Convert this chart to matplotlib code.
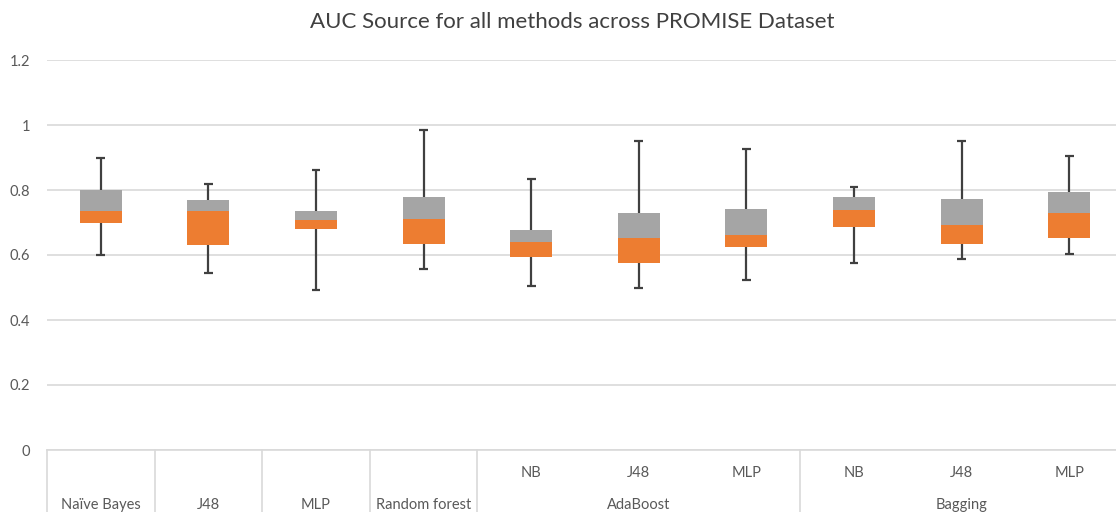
import matplotlib
matplotlib.use("Agg")
import matplotlib.pyplot as plt
import matplotlib.transforms as mtransforms
import numpy as np

# sub-category labels and their outer group ("" = no group)
labels = ["Naïve Bayes", "J48", "MLP", "Random forest", "NB", "J48", "MLP", "NB", "J48", "MLP"]
groups = ["", "", "", "", "AdaBoost", "AdaBoost", "AdaBoost", "Bagging", "Bagging", "Bagging"]

# five-number summaries
mins = [0.600, 0.544, 0.492, 0.557, 0.505, 0.497, 0.523, 0.576, 0.589, 0.603]
q1s = [0.697, 0.630, 0.679, 0.634, 0.595, 0.574, 0.625, 0.685, 0.634, 0.652]
medians = [0.736, 0.736, 0.708, 0.710, 0.641, 0.651, 0.662, 0.740, 0.691, 0.729]
q3s = [0.799, 0.769, 0.736, 0.779, 0.677, 0.728, 0.742, 0.779, 0.771, 0.793]
maxs = [0.900, 0.818, 0.862, 0.985, 0.833, 0.952, 0.925, 0.810, 0.952, 0.906]

orange = "#ED7D31"
grey = "#A5A5A5"
text_col = "#595959"
plt.rcParams["font.family"] = ["Lato", "DejaVu Sans"]

fig = plt.figure(figsize=(11.16, 5.12), dpi=100)
ax = fig.add_axes([47 / 1116, 62 / 512, 1076 / 1116, 390 / 512])

x = np.arange(len(labels))
q1 = np.array(q1s)
med = np.array(medians)
q3 = np.array(q3s)

# whiskers behind the boxes
ax.vlines(x, mins, maxs, color="#404040", lw=1.6, zorder=2)
ax.hlines(mins, x - 0.04, x + 0.04, color="#404040", lw=1.6, zorder=2)
ax.hlines(maxs, x - 0.04, x + 0.04, color="#404040", lw=1.6, zorder=2)

ax.bar(x, med - q1, bottom=q1, width=0.39, color=orange, zorder=3)
ax.bar(x, q3 - med, bottom=med, width=0.39, color=grey, zorder=3)

ax.set_xlim(-0.5, len(labels) - 0.5)
ax.set_ylim(0, 1.2)
ax.set_yticks(np.arange(0, 1.21, 0.2))
ax.set_yticklabels(["0", "0.2", "0.4", "0.6", "0.8", "1", "1.2"])
ax.tick_params(axis="y", length=0, pad=12, labelsize=10.5, colors=text_col)
ax.set_xticks([])
ax.grid(axis="y", color="#D9D9D9", lw=1.2, zorder=0)
ax.set_axisbelow(True)
for s in ["top", "right", "left"]:
    ax.spines[s].set_visible(False)
ax.spines["bottom"].set_color("#D9D9D9")
ax.spines["bottom"].set_linewidth(1.2)

fig.text(572 / 1116, 1 - 22 / 512, "AUC Source for all methods across PROMISE Dataset",
         fontsize=16, color="#404040", ha="center", va="center")

# multi-level category axis
trans = mtransforms.blended_transform_factory(ax.transData, ax.transAxes)
row1 = -23 / 390
row2 = -55 / 390
bottom = -70 / 390
for i, (lab, grp) in enumerate(zip(labels, groups)):
    row = row2 if grp == "" else row1
    ax.text(i, row, lab, transform=trans, ha="center", va="center",
            fontsize=10.5, color=text_col)

# group names centred under their members
seen = []
for grp in groups:
    if grp and grp not in seen:
        seen.append(grp)
for grp in seen:
    idx = [i for i, g in enumerate(groups) if g == grp]
    ax.text(np.mean(idx), row2, grp, transform=trans, ha="center", va="center",
            fontsize=10.5, color=text_col)

# separators between categories / groups
edges = [-0.5]
for i in range(len(labels)):
    if groups[i] == "" or i == len(labels) - 1 or groups[i + 1] != groups[i]:
        edges.append(i + 0.5)
for e in edges:
    ax.plot([e, e], [0, bottom], transform=trans, color="#D9D9D9", lw=1.2,
            clip_on=False)

fig.savefig("out.png", dpi=100)
